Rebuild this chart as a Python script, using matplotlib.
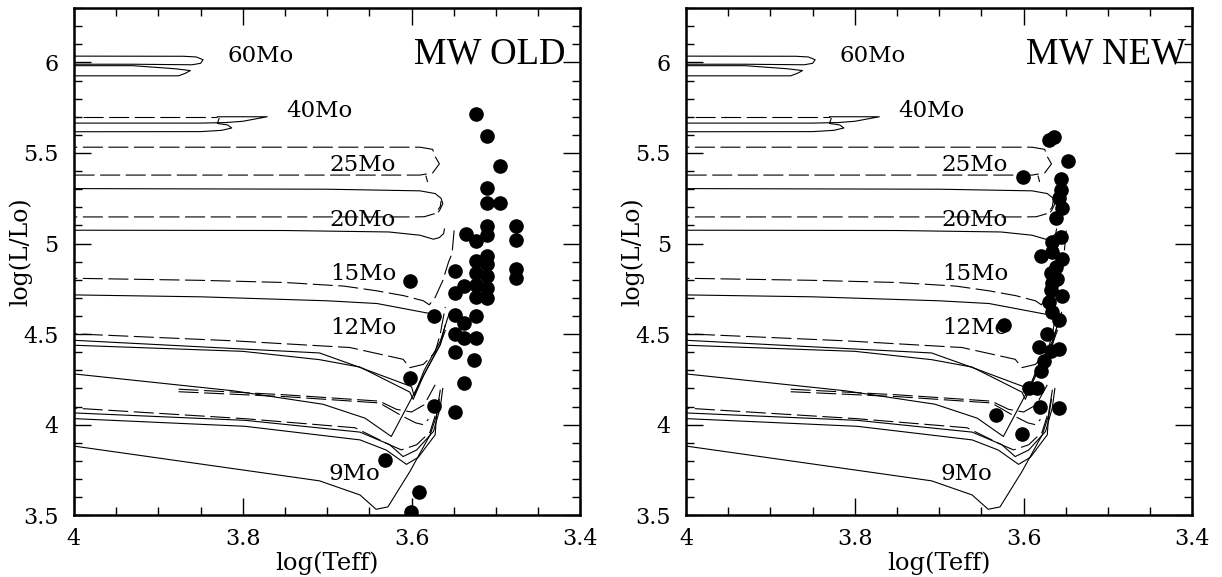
import matplotlib
matplotlib.use("Agg")
import matplotlib.pyplot as plt
from matplotlib.ticker import MultipleLocator, FuncFormatter

plt.rcParams['font.family'] = ['DejaVu Serif']

# ---- evolutionary tracks (log Teff, log L), shared by both panels ----
# solid tracks
t60a_x = [4.05, 3.87, 3.855, 3.847, 3.85, 3.86, 3.93, 4.05]
t60a_y = [6.035, 6.034, 6.03, 6.015, 5.995, 5.987, 5.99, 5.99]
t60b_x = [4.05, 3.93, 3.88, 3.862, 3.868, 3.876, 4.05]
t60b_y = [5.982, 5.982, 5.965, 5.955, 5.94, 5.926, 5.926]
t40a_x = [4.05, 3.85, 3.82, 3.80, 3.771, 3.80, 3.83]
t40a_y = [5.665, 5.665, 5.668, 5.675, 5.70, 5.70, 5.70]
t40b_x = [4.05, 3.85, 3.825, 3.813, 3.818, 3.83, 3.828]
t40b_y = [5.617, 5.618, 5.625, 5.638, 5.655, 5.663, 5.69]
t20a_x = [4.05, 3.70, 3.59, 3.572, 3.565, 3.563, 3.566, 3.568]
t20a_y = [5.304, 5.300, 5.291, 5.276, 5.25, 5.22, 5.19, 5.175]
t20b_x = [4.05, 3.75, 3.627, 3.59, 3.574, 3.567, 3.562, 3.561]
t20b_y = [5.074, 5.072, 5.064, 5.046, 5.024, 5.033, 5.055, 5.08]
t15_x = [4.05, 3.85, 3.70, 3.641, 3.574]
t15_y = [4.720, 4.706, 4.684, 4.669, 4.610]
t12a_x = [4.05, 3.709, 3.661, 3.60, 3.597, 3.585, 3.566, 3.555]
t12a_y = [4.478, 4.396, 4.316, 4.21, 4.16, 4.30, 4.46, 4.62]
t12b_x = [4.05, 3.80, 3.709, 3.661, 3.602, 3.598, 3.585, 3.566, 3.56]
t12b_y = [4.447, 4.405, 4.359, 4.318, 4.18, 4.14, 4.28, 4.44, 4.55]
t11_x = [4.05, 3.811, 3.705, 3.655, 3.624, 3.566, 3.56]
t11_y = [4.305, 4.187, 4.113, 4.036, 3.935, 4.444, 4.52]
t10a_x = [4.05, 3.797, 3.661, 3.626, 3.61, 3.594, 3.574, 3.566, 3.563]
t10a_y = [4.075, 4.024, 3.959, 3.89, 3.824, 3.86, 3.963, 4.093, 4.20]
t10b_x = [4.05, 3.797, 3.661, 3.63, 3.606, 3.592, 3.572, 3.570, 3.566]
t10b_y = [4.044, 3.991, 3.916, 3.86, 3.781, 3.82, 3.944, 4.074, 4.19]
t9_x = [4.05, 3.709, 3.661, 3.642, 3.628, 3.602, 3.578, 3.570, 3.567]
t9_y = [3.915, 3.69, 3.612, 3.533, 3.546, 3.741, 3.944, 4.056, 4.14]
# dashed tracks
d40_x = [4.05, 3.83]
d40_y = [5.70, 5.70]
d25_x = [4.05, 3.59, 3.575, 3.572, 3.567, 3.575, 3.59, 4.05]
d25_y = [5.532, 5.532, 5.52, 5.48, 5.44, 5.39, 5.378, 5.378]
d25b_x = [3.583, 3.581]
d25b_y = [5.375, 5.34]
d20_x = [4.05, 3.60, 3.585, 3.572, 3.566, 3.565]
d20_y = [5.147, 5.147, 5.148, 5.166, 5.203, 5.235]
d15_x = [4.05, 3.85, 3.75, 3.68, 3.641, 3.609, 3.586, 3.579, 3.572,
         3.563, 3.556, 3.552, 3.549]
d15_y = [4.812, 4.797, 4.785, 4.765, 4.739, 4.712, 4.684, 4.662, 4.703,
         4.795, 4.90, 4.945, 5.10]
d12_x = [4.05, 3.811, 3.673, 3.61, 3.602, 3.586, 3.572, 3.566, 3.56]
d12_y = [4.512, 4.463, 4.426, 4.361, 4.315, 4.333, 4.40, 4.50, 4.65]
d11a_x = [3.876, 3.75, 3.638, 3.618, 3.60, 3.585, 3.572]
d11a_y = [4.196, 4.165, 4.13, 4.085, 4.07, 4.11, 4.22]
d11b_x = [3.876, 3.75, 3.638, 3.612, 3.595, 3.586, 3.58]
d11b_y = [4.182, 4.155, 4.12, 4.05, 4.01, 4.00, 4.03]
d10_x = [4.05, 3.797, 3.667, 3.626, 3.612, 3.594, 3.578, 3.572]
d10_y = [4.106, 4.033, 3.983, 3.889, 3.861, 3.889, 3.96, 4.05]

solid_tracks = [(t60a_x, t60a_y), (t60b_x, t60b_y),
                (t40a_x, t40a_y), (t40b_x, t40b_y), (t20a_x, t20a_y),
                (t20b_x, t20b_y), (t15_x, t15_y), (t12a_x, t12a_y),
                (t12b_x, t12b_y), (t11_x, t11_y), (t10a_x, t10a_y),
                (t10b_x, t10b_y), (t9_x, t9_y)]
dashed_tracks = [(d40_x, d40_y), (d25_x, d25_y), (d25b_x, d25b_y),
                 (d20_x, d20_y), (d15_x, d15_y), (d12_x, d12_y),
                 (d11a_x, d11a_y), (d11b_x, d11b_y), (d10_x, d10_y)]

# track labels
mass_labels = ['60Mo', '40Mo', '25Mo', '20Mo', '15Mo', '12Mo', '9Mo']
label_x = [3.818, 3.748, 3.697, 3.697, 3.696, 3.696, 3.698]
label_y = [6.00, 5.70, 5.40, 5.096, 4.797, 4.50, 3.695]

# ---- red supergiants ----
old_teff = [3.524, 3.510, 3.495, 3.510, 3.510, 3.495, 3.476, 3.476, 3.476,
            3.476, 3.536, 3.524, 3.510, 3.510, 3.510, 3.510, 3.524, 3.524,
            3.524, 3.524, 3.510, 3.510, 3.510, 3.538, 3.549, 3.549, 3.573,
            3.549, 3.538, 3.524, 3.549, 3.538, 3.524, 3.549, 3.526, 3.538,
            3.549, 3.573, 3.602, 3.602, 3.632, 3.591, 3.601]
old_logl = [5.716, 5.593, 5.428, 5.304, 5.223, 5.223, 5.095, 5.020, 4.858,
            4.811, 5.054, 5.014, 5.095, 5.048, 4.934, 4.887, 4.906, 4.839,
            4.773, 4.706, 4.820, 4.754, 4.697, 4.767, 4.849, 4.725, 4.602,
            4.606, 4.564, 4.602, 4.498, 4.479, 4.479, 4.403, 4.355, 4.232,
            4.071, 4.103, 4.791, 4.260, 3.804, 3.627, 3.520]
new_teff = [3.570, 3.564, 3.548, 3.601, 3.556, 3.556, 3.558, 3.554, 3.562,
            3.566, 3.556, 3.580, 3.566, 3.554, 3.568, 3.560, 3.568, 3.554,
            3.570, 3.566, 3.558, 3.623, 3.572, 3.582, 3.558, 3.568, 3.576,
            3.580, 3.594, 3.584, 3.581, 3.558, 3.633, 3.602, 3.562, 3.566]
new_logl = [5.573, 5.588, 5.457, 5.367, 5.354, 5.298, 5.251, 5.195, 5.139,
            5.008, 5.036, 4.933, 4.952, 4.914, 4.839, 4.802, 4.746, 4.708,
            4.680, 4.624, 4.577, 4.549, 4.502, 4.427, 4.418, 4.409, 4.352,
            4.296, 4.203, 4.203, 4.100, 4.090, 4.053, 3.950, 4.870, 4.780]

panels = [('MW OLD', old_teff, old_logl), ('MW NEW', new_teff, new_logl)]

fig = plt.figure(figsize=(12.22, 5.77), dpi=100)
lefts = [0.0605, 0.5614]

for (title, teff, logl), left in zip(panels, lefts):
    ax = fig.add_axes([left, 0.107, 0.4144, 0.879])
    for x, y in solid_tracks:
        ax.plot(x, y, color='black', lw=0.8)
    for x, y in dashed_tracks:
        ax.plot(x, y, color='black', lw=0.8, dashes=(18, 5))
    ax.plot(teff, logl, 'o', color='black', ms=9.5, mec='black')
    for lab, lx, ly in zip(mass_labels, label_x, label_y):
        ax.text(lx, ly, lab, fontsize=16.5, ha='left', va='baseline')
    ax.text(3.597, 5.995, title, fontsize=26.5, ha='left', va='baseline',
            family=['Liberation Serif'])

    ax.set_xlim(4.0, 3.4)
    ax.set_ylim(3.5, 6.3)
    ax.xaxis.set_major_locator(MultipleLocator(0.2))
    ax.xaxis.set_minor_locator(MultipleLocator(0.05))
    ax.yaxis.set_major_locator(MultipleLocator(0.5))
    ax.yaxis.set_minor_locator(MultipleLocator(0.1))
    fmt = FuncFormatter(lambda v, p: '%g' % round(v, 2))
    ax.xaxis.set_major_formatter(fmt)
    ax.yaxis.set_major_formatter(fmt)
    ax.tick_params(which='both', direction='in', top=True, right=True,
                   labelsize=16, width=1.0)
    ax.tick_params(axis='x', pad=9)
    ax.tick_params(axis='y', pad=11)
    ax.tick_params(which='major', length=12)
    ax.tick_params(which='minor', length=6)
    for s in ax.spines.values():
        s.set_linewidth(1.8)
    ax.set_xlabel('log(Teff)', fontsize=17.5, labelpad=1)
    ax.set_ylabel('log(L/Lo)', fontsize=17)
    ax.yaxis.set_label_coords(-0.083, 0.52)

fig.savefig('out.png', dpi=100)
